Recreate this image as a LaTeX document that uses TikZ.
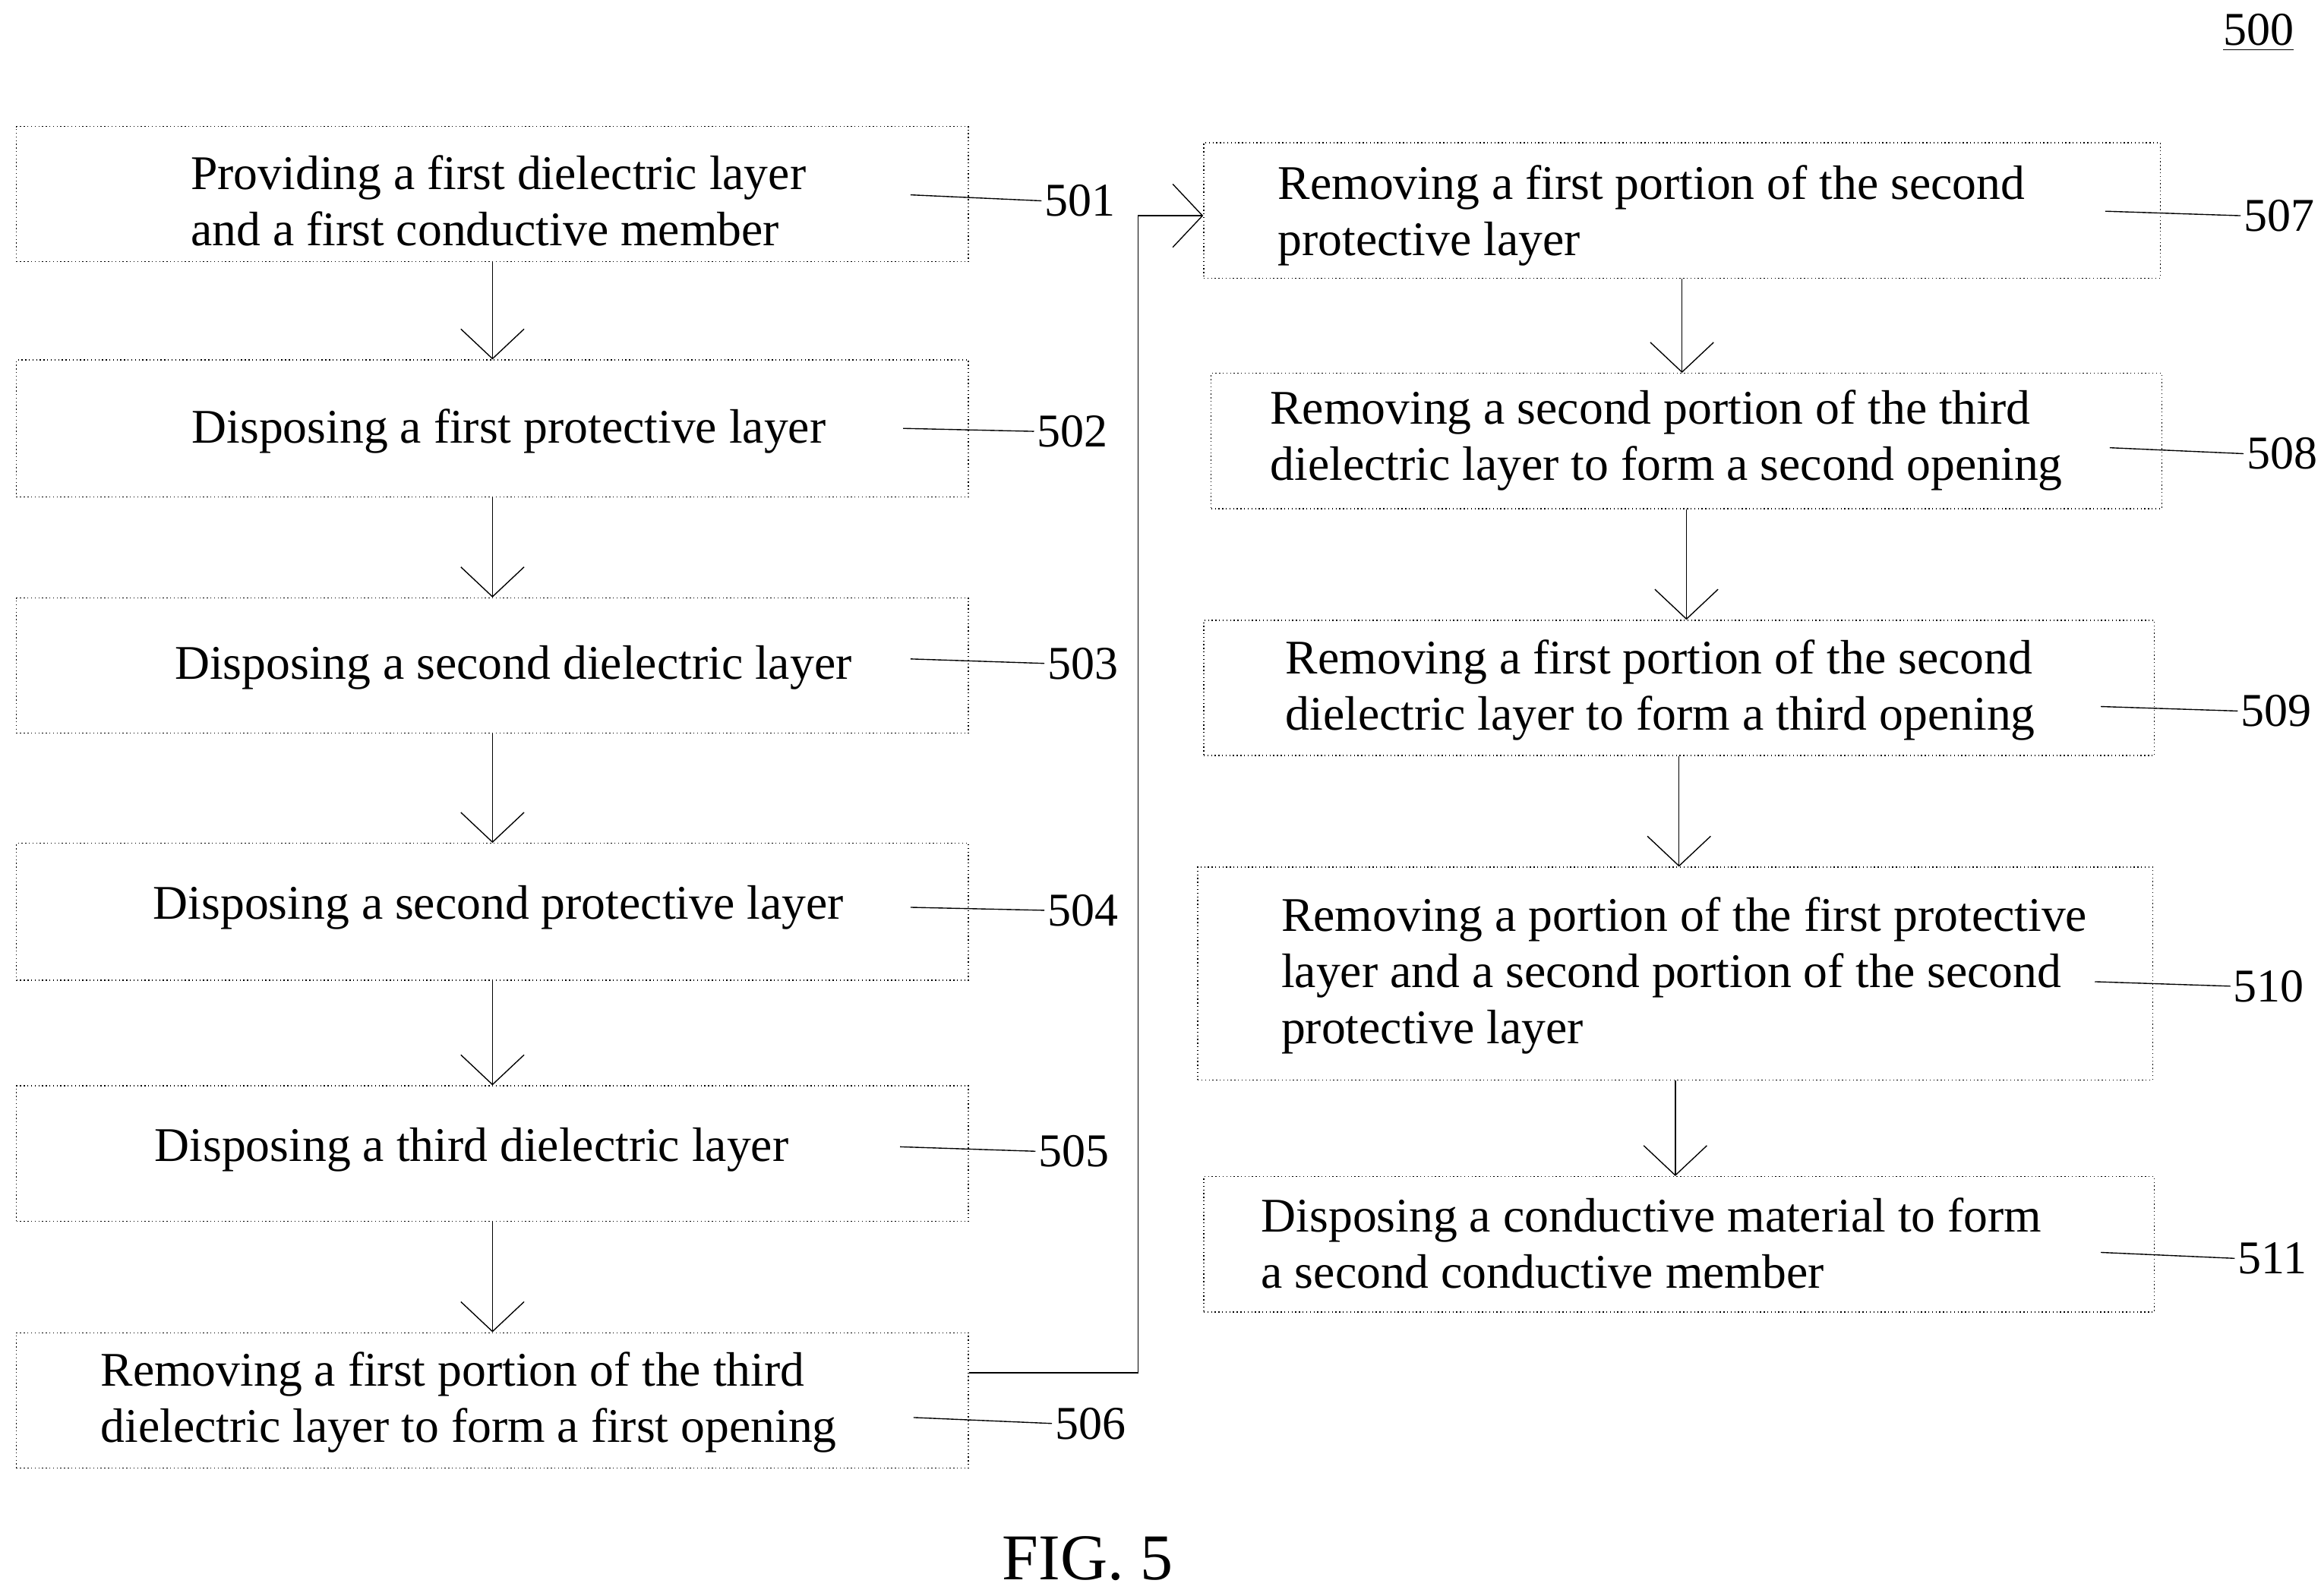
\documentclass[tikz,border=0pt]{standalone}
\usepackage{fontspec}
\setmainfont{Liberation Serif}
\usetikzlibrary{arrows.meta}

\tikzset{
  box/.style={draw, densely dotted, inner sep=0pt, minimum height=1.82cm},
  txt/.style={align=left, font=\fontsize{18.5}{21.5}\selectfont},
  lbl/.style={font=\fontsize{18}{21}\selectfont, inner sep=1pt},
  flow/.style={-{Straight Barb[length=0.4cm, width=0.85cm]}},
}

\begin{document}
\begin{tikzpicture}[yscale=-1, x=0.02cm, y=0.02cm]
    \useasboundingbox (0,0) rectangle (1560,1073);

    % left column boxes
    \node[box, minimum width=12.8cm] (s501) at (331,130.5) {};
    \node[box, minimum width=12.8cm, minimum height=1.84cm] (s502) at (331,288) {};
    \node[box, minimum width=12.8cm] (s503) at (331,447.5) {};
    \node[box, minimum width=12.8cm, minimum height=1.84cm] (s504) at (331,613) {};
    \node[box, minimum width=12.8cm] (s505) at (331,775.5) {};
    \node[box, minimum width=12.8cm] (s506) at (331,941.5) {};

    % right column boxes
    \node[box, minimum width=12.86cm] (s507) at (1130.5,141.5) {};
    \node[box, minimum width=12.78cm] (s508) at (1133.5,296.5) {};
    \node[box, minimum width=12.78cm] (s509) at (1128.5,462.5) {};
    \node[box, minimum width=12.84cm, minimum height=2.86cm] (s510) at (1126,654.5) {};
    \node[box, minimum width=12.78cm] (s511) at (1128.5,836.5) {};

    % texts
    \node[txt] (t501) at (335,135) {Providing a first dielectric layer\\and a first conductive member};
    \node[txt] (t502) at (342,290) {Disposing a first protective layer};
    \node[txt] (t503) at (345,449) {Disposing a second dielectric layer};
    \node[txt] (t504) at (335,610) {Disposing a second protective layer};
    \node[txt] (t505) at (317,773) {Disposing a third dielectric layer};
    \node[txt] (t506) at (315,943) {Removing a first portion of the third\\dielectric layer to form a first opening};
    \node[txt] (t507) at (1110,145) {Removing a first portion of the second\\protective layer};
    \node[txt] (t508) at (1120,296) {Removing a second portion of the third\\dielectric layer to form a second opening};
    \node[txt] (t509) at (1116,464) {Removing a first portion of the second\\dielectric layer to form a third opening};
    \node[txt] (t510) at (1132,656) {Removing a portion of the first protective\\layer and a second portion of the second\\protective layer};
    \node[txt] (t511) at (1110,836) {Disposing a conductive material to form\\a second conductive member};

    % reference numerals
    \node[lbl, anchor=west] (n501) at (700,135) {501};
    \node[lbl, anchor=west] (n502) at (695,290) {502};
    \node[lbl, anchor=west] (n503) at (702,446) {503};
    \node[lbl, anchor=west] (n504) at (702,612) {504};
    \node[lbl, anchor=west] (n505) at (696,774) {505};
    \node[lbl, anchor=west] (n506) at (707,957) {506};
    \node[lbl, anchor=west] (n507) at (1506,145) {507};
    \node[lbl, anchor=west] (n508) at (1508,305) {508};
    \node[lbl, anchor=west] (n509) at (1504,478) {509};
    \node[lbl, anchor=west] (n510) at (1499,663) {510};
    \node[lbl, anchor=west] (n511) at (1502,846) {511};
    \node[lbl] (n500) at (1518,22) {\underline{500}};

    % leader lines
    \coordinate (c501) at (612,131);
    \coordinate (c502) at (607,288);
    \coordinate (c503) at (612,443);
    \coordinate (c504) at (612,610);
    \coordinate (c505) at (605,771);
    \coordinate (c506) at (614,953);
    \coordinate (c507) at (1415,142);
    \coordinate (c508) at (1418,301);
    \coordinate (c509) at (1412,475);
    \coordinate (c510) at (1408,660);
    \coordinate (c511) at (1412,842);
    \foreach \i in {501,...,511}
        \draw (c\i) -- (n\i.west);

    % flow arrows
    \foreach \a/\b in {501/502,502/503,503/504,504/505,505/506,507/508,508/509,509/510,510/511}
        \draw[flow] (s\a.south) -- (s\a.south |- s\b.north);
    \draw[flow] (s506.east |- 0,923) -| (765,145) -- (s507.west |- 0,145);

    \node[font=\fontsize{25}{29}\selectfont] (fig) at (731,1048) {FIG. 5};
\end{tikzpicture}
\end{document}
